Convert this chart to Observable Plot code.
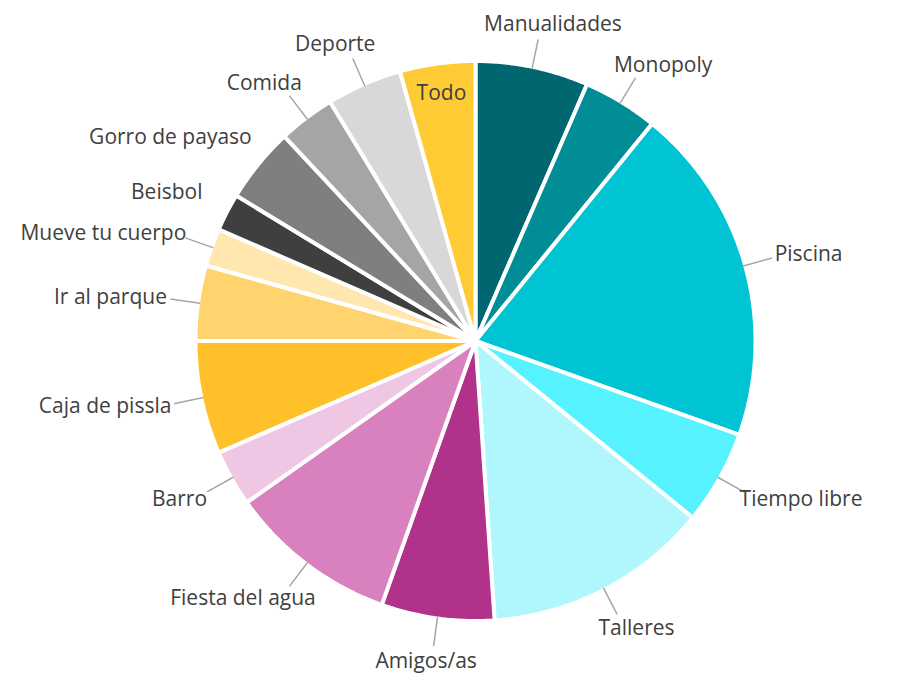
<!DOCTYPE html>
<html><head><meta charset="utf-8">
<script src="https://cdn.jsdelivr.net/npm/d3@7"></script>
<script src="https://cdn.jsdelivr.net/npm/@observablehq/plot@0.6"></script>
<style>body{margin:0;background:#fff} #chart{width:921px;height:679px}</style>
</head><body><div id="chart"></div>
<script>
// ---- data ----
const categories = ["Manualidades","Monopoly","Piscina","Tiempo libre","Talleres","Amigos/as","Fiesta del agua","Barro","Caja de pissla","Ir al parque","Mueve tu cuerpo","Beisbol","Gorro de payaso","Comida","Deporte","Todo"];
const counts = [6,4,18,5,12,6,9,3,6,4,2,2,4,3,4,4];
const colors = ["#00666F","#008D96","#00C3D3","#57F2FF","#B0F7FD","#B0328A","#D981BE","#EFC7E4","#FFC02A","#FFD46E","#FFE7AF","#3F3F3F","#7F7F7F","#A5A5A5","#D8D8D8","#FFCB34"];
const insideLabels = ["Todo"];
const noLeader = ["Beisbol", "Gorro de payaso"];

// ---- layout ----
const W = 921, H = 679;
const CX = 475, CY = 340.5;   // pie centre (px)
const R = 280;                // pie radius (px); white outline trims ~2px
const SEP = 4;                // white separator width
const FONT = 21;
const FONT_FAMILY = "'Open Sans'";
const LABEL_GAP = 34;         // distance of outside labels from pie edge
const RV = R - SEP / 2;       // visible radius

const data = categories.map((name, i) => ({name, count: counts[i], fill: colors[i]}));
const arcs = d3.pie().sort(null).value(d => d.count)(data);

// slice outlines in unit coordinates (radius 1), y pointing up
const polys = [];
for (const a of arcs) {
  const n = Math.max(2, Math.ceil((a.endAngle - a.startAngle) / (Math.PI / 360)));
  polys.push({name: a.data.name, fill: a.data.fill, x: 0, y: 0});
  for (let k = 0; k <= n; k++) {
    const t = a.startAngle + (a.endAngle - a.startAngle) * k / n;
    polys.push({name: a.data.name, fill: a.data.fill, x: Math.sin(t), y: Math.cos(t)});
  }
}

const ctx = document.createElement("canvas").getContext("2d");
ctx.font = `${FONT}px ${FONT_FAMILY}`;

const labels = [], leaders = [];
for (const a of arcs) {
  const m = (a.startAngle + a.endAngle) / 2;
  const sx = Math.sin(m), sy = Math.cos(m);
  const name = a.data.name;
  if (insideLabels.includes(name)) {
    const r = RV * 0.9;
    labels.push({name, x: sx * r / R, y: sy * r / R});
    continue;
  }
  const w = ctx.measureText(name).width, h = FONT * 1.05;
  const rp = RV + LABEL_GAP;
  const px = sx * rp + sx * w / 2, py = sy * rp + sy * h / 2;
  labels.push({name, x: px / R, y: py / R});
  if (!noLeader.includes(name))
    leaders.push({x1: sx * RV / R, y1: sy * RV / R, x2: sx * (rp - 4) / R, y2: sy * (rp - 4) / R});
}

const chart = Plot.plot({
  width: W, height: H,
  margin: 0,
  x: {domain: [-CX / R, (W - CX) / R], range: [0, W], axis: null},
  y: {domain: [-(H - CY) / R, CY / R], range: [H, 0], axis: null},
  color: {type: "identity"},
  style: {fontFamily: FONT_FAMILY + ", sans-serif", background: "#fff"},
  marks: [
    Plot.line(polys, {x: "x", y: "y", z: "name", fill: "fill", stroke: "#fff", strokeWidth: SEP, curve: "linear-closed", strokeLinejoin: "miter"}),
    Plot.link(leaders, {x1: "x1", y1: "y1", x2: "x2", y2: "y2", stroke: "#A6A6A6", strokeWidth: 1.5}),
    Plot.text(labels, {x: "x", y: "y", text: "name", fill: "#404040", fontSize: FONT, textAnchor: "middle", lineAnchor: "middle"})
  ]
});
document.getElementById("chart").append(chart);
</script>
</body></html>
